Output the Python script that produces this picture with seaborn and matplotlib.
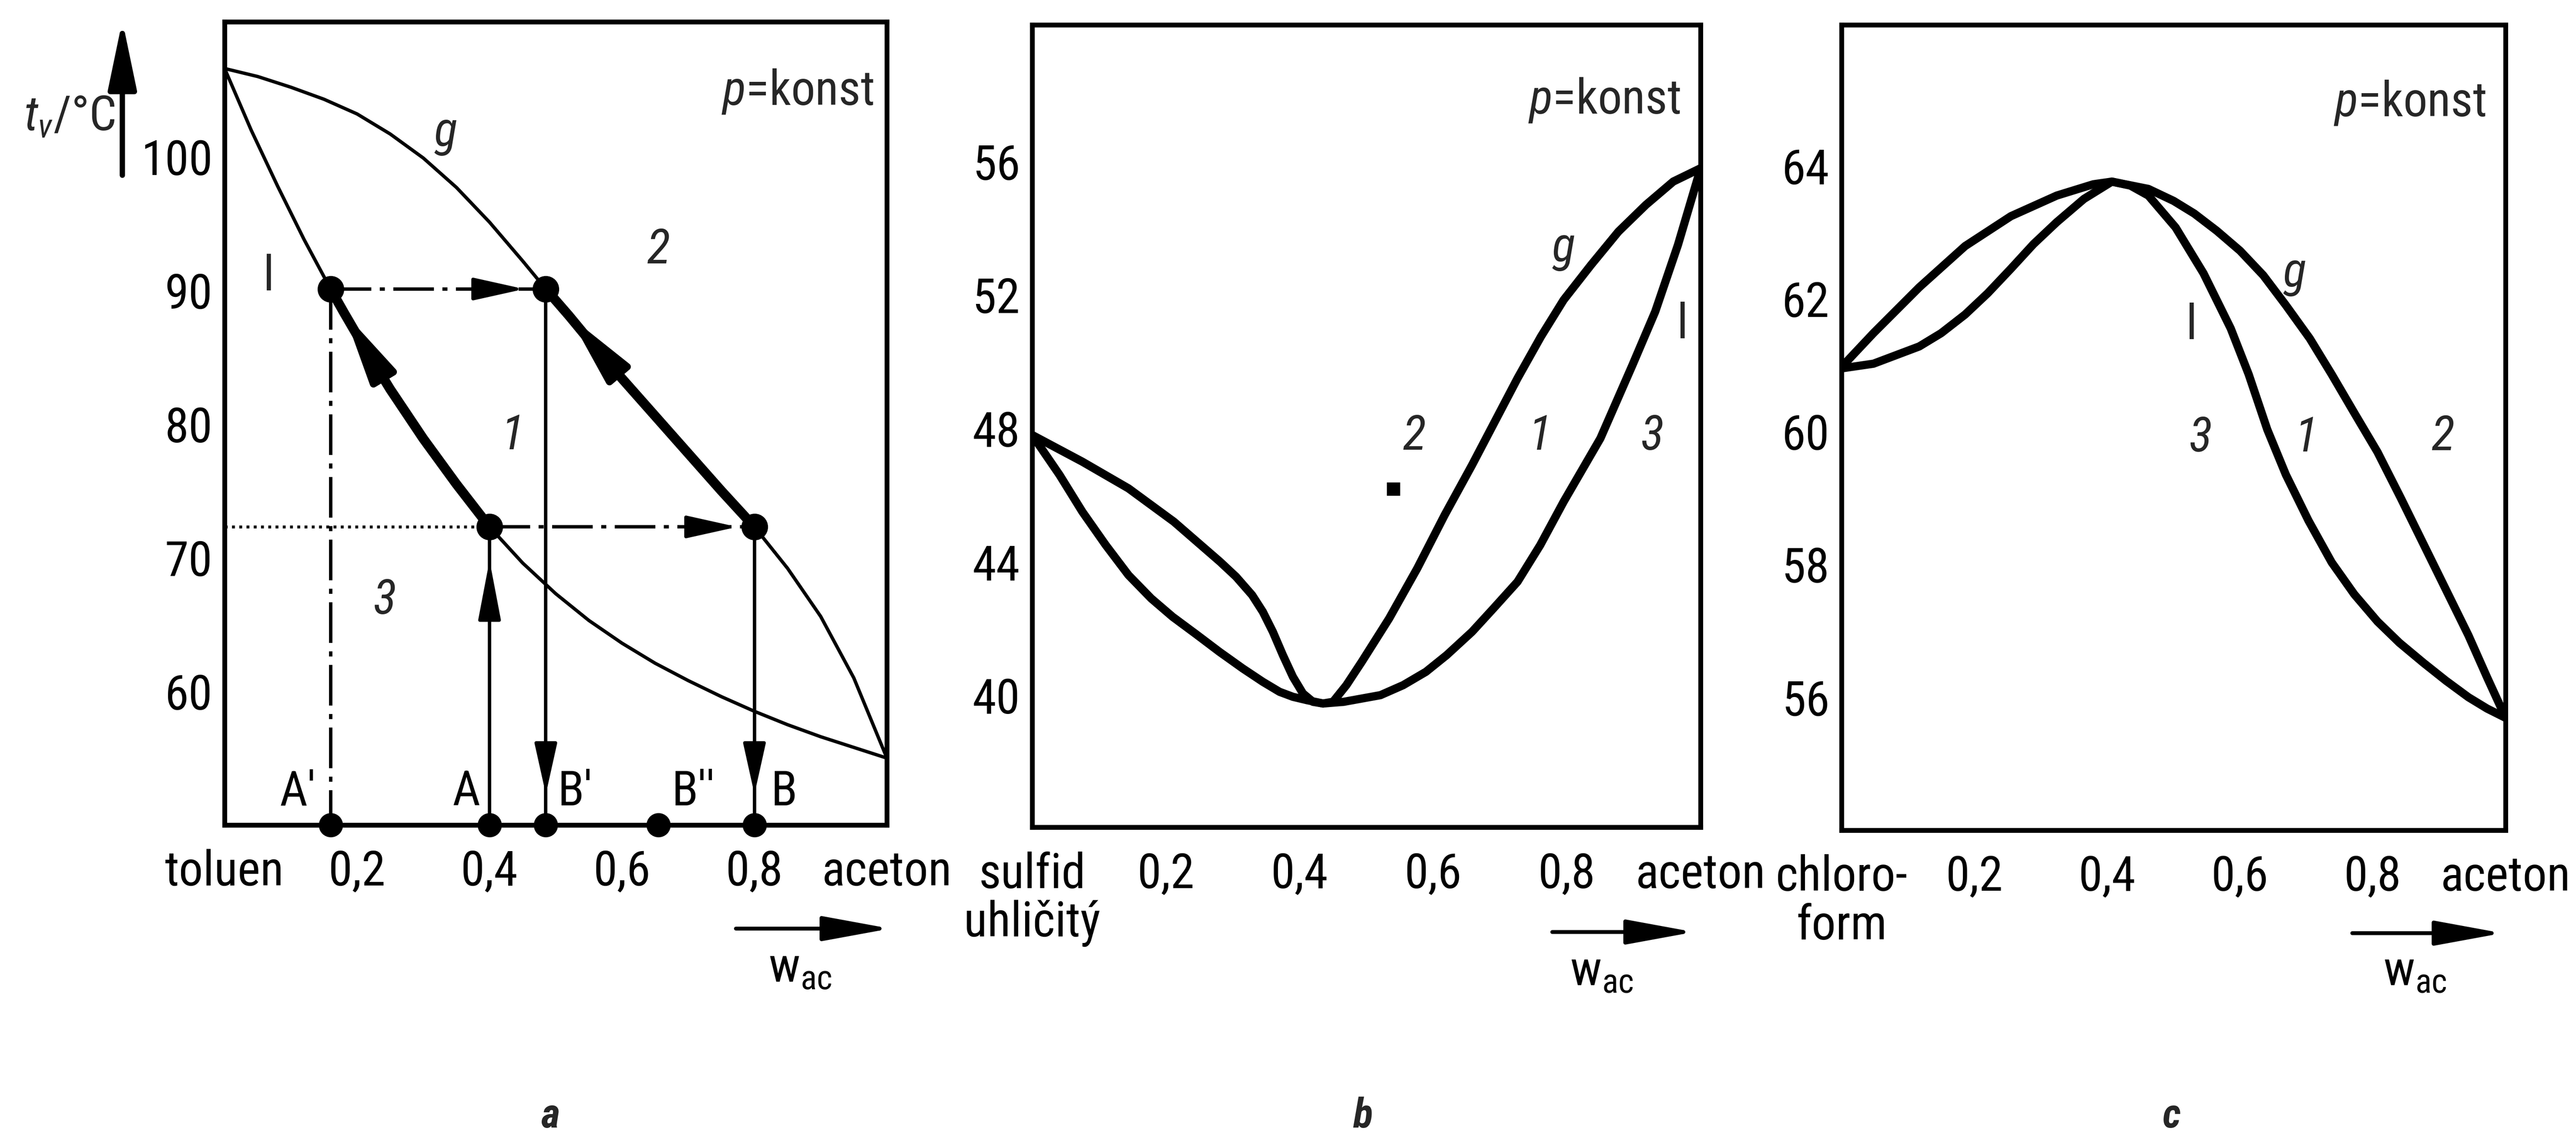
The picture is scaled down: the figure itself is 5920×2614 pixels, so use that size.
import matplotlib
matplotlib.use("Agg")
import matplotlib.pyplot as plt
from matplotlib import font_manager as fm
import seaborn as sns
import pandas as pd

# ---------------- data ----------------
# (a) toluen - aceton  (liquid l, vapour g)
a_liq_x = [0.00, 0.04, 0.08, 0.12, 0.16, 0.18, 0.20, 0.25, 0.30, 0.35, 0.40, 0.45,
           0.50, 0.55, 0.60, 0.65, 0.70, 0.75, 0.80, 0.85, 0.90, 0.95, 1.00]
a_liq_t = [106.6, 102.0, 97.8, 93.8, 90.1, 88.35, 86.65, 82.6, 78.9, 75.5, 72.3, 69.6,
           67.3, 65.3, 63.6, 62.1, 60.8, 59.6, 58.5, 57.5, 56.6, 55.8, 55.0]
a_vap_x = [0.00, 0.05, 0.10, 0.15, 0.20, 0.25, 0.30, 0.35, 0.40, 0.45, 0.485, 0.52,
           0.55, 0.60, 0.65, 0.70, 0.75, 0.80, 0.85, 0.90, 0.95, 1.00]
a_vap_t = [106.6, 106.0, 105.2, 104.3, 103.2, 101.7, 99.9, 97.7, 95.1, 92.2, 90.1, 88.1,
           86.3, 83.4, 80.6, 77.8, 75.0, 72.3, 69.2, 65.6, 61.0, 55.0]
a_comp_x = [0.16, 0.40, 0.485, 0.655, 0.80]          # A', A, B', B'', B
a_comp_lab = ["A'", "A", "B'", "B''", "B"]
a_t_upper = 90.1
a_t_lower = 72.3

# (b) sulfid uhlicity - aceton
b_vap_x = [0.00, 0.075, 0.144, 0.212, 0.281, 0.305, 0.329, 0.345, 0.360, 0.375, 0.390,
           0.405, 0.420, 0.435, 0.450, 0.470, 0.493, 0.534, 0.576, 0.617, 0.658, 0.692,
           0.726, 0.761, 0.795, 0.836, 0.877, 0.918, 0.959, 1.00]
b_vap_t = [47.8, 47.0, 46.2, 45.2, 44.0, 43.55, 43.0, 42.5, 41.9, 41.2, 40.55,
           40.05, 39.8, 39.75, 39.8, 40.3, 41.0, 42.3, 43.8, 45.4, 46.9, 48.2,
           49.5, 50.75, 51.85, 52.9, 53.9, 54.7, 55.4, 55.8]
b_liq_x = [0.00, 0.041, 0.075, 0.110, 0.144, 0.178, 0.210, 0.247, 0.280, 0.315, 0.345,
           0.370, 0.390, 0.411, 0.435, 0.466, 0.521, 0.555, 0.589, 0.620, 0.658, 0.690,
           0.726, 0.760, 0.795, 0.850, 0.898, 0.932, 0.966, 1.00]
b_liq_t = [47.8, 46.6, 45.5, 44.5, 43.6, 42.9, 42.35, 41.8, 41.3, 40.8, 40.4,
           40.1, 39.95, 39.85, 39.75, 39.8, 40.0, 40.3, 40.7, 41.2, 41.9, 42.6,
           43.4, 44.5, 45.8, 47.7, 49.9, 51.5, 53.5, 55.8]

# (c) chloroform - aceton
c_vap_x = [0.00, 0.048, 0.117, 0.186, 0.255, 0.324, 0.379, 0.407, 0.462, 0.500, 0.531,
           0.565, 0.600, 0.635, 0.669, 0.705, 0.738, 0.772, 0.807, 0.842, 0.876, 0.910,
           0.944, 0.972, 1.00]
c_vap_t = [60.97, 61.48, 62.17, 62.79, 63.24, 63.55, 63.72, 63.76, 63.65, 63.47, 63.28,
           63.02, 62.72, 62.35, 61.90, 61.40, 60.86, 60.28, 59.69, 59.00, 58.31, 57.62,
           56.93, 56.30, 55.69]
c_liq_x = [0.00, 0.048, 0.117, 0.150, 0.186, 0.220, 0.255, 0.289, 0.324, 0.365, 0.407,
           0.435, 0.462, 0.503, 0.545, 0.586, 0.613, 0.641, 0.669, 0.703, 0.738, 0.772,
           0.807, 0.840, 0.876, 0.910, 0.944, 0.972, 1.00]
c_liq_t = [60.95, 61.02, 61.28, 61.48, 61.76, 62.08, 62.45, 62.82, 63.15, 63.50, 63.76,
           63.70, 63.55, 63.07, 62.38, 61.55, 60.86, 60.03, 59.35, 58.66, 58.03, 57.55,
           57.14, 56.82, 56.52, 56.25, 56.00, 55.83, 55.69]

x_ticks = [0.0, 0.2, 0.4, 0.6, 0.8, 1.0]
a_xlabels = ["toluen", "0,2", "0,4", "0,6", "0,8", "aceton"]
b_xlabels = ["sulfid\nuhličitý", "0,2", "0,4", "0,6", "0,8", "aceton"]
c_xlabels = ["chloro-\nform", "0,2", "0,4", "0,6", "0,8", "aceton"]
a_yticks = [60, 70, 80, 90, 100]
b_yticks = [40, 44, 48, 52, 56]
c_yticks = [56, 58, 60, 62, 64]
a_ylim = (50.0, 110.1)
b_ylim = (36.04, 60.1)
c_ylim = (54.0, 66.12)

# ---------------- style ----------------
sns.set_theme(style="white")
ttf = fm.fontManager.ttflist
names = {f.name for f in ttf}
STRETCH = "normal"
FONT, FS = "Liberation Sans", 17.5
for cand in ["Liberation Sans Narrow", "Arial Narrow", "Nimbus Sans Narrow",
             "Roboto Condensed", "Open Sans Condensed"]:
    if cand in names:
        FONT, FS = cand, 20
        break
else:
    if any(f.name == "DejaVu Sans" and f.stretch in ("condensed", "semi-condensed")
           for f in ttf):
        FONT, FS, STRETCH = "DejaVu Sans", 17, "condensed"
plt.rcParams["font.family"] = [FONT, "DejaVu Sans"]
plt.rcParams["font.stretch"] = STRETCH
plt.rcParams["mathtext.fontset"] = "custom"
plt.rcParams["mathtext.rm"] = FONT
plt.rcParams["mathtext.it"] = FONT + ":italic"
plt.rcParams["axes.linewidth"] = 2.0

fig = plt.figure(figsize=(14.8, 6.535), dpi=400)
fig.patch.set_facecolor("white")
axA = fig.add_axes([0.0872, 0.2751, 0.2571, 0.7058])
axB = fig.add_axes([0.4007, 0.2731, 0.2595, 0.7051])
axC = fig.add_axes([0.7149, 0.2705, 0.2578, 0.7077])

K = "black"
DASHDOT = (0, (12, 2.5, 1.5, 2.5))


def style_axes(ax, ylim, yticks, xlabels):
    ax.set_xlim(0, 1)
    ax.set_ylim(*ylim)
    ax.set_facecolor("white")
    for s in ax.spines.values():
        s.set_visible(True)
        s.set_color(K)
        s.set_linewidth(2.0)
    ax.set_yticks(yticks)
    ax.set_yticklabels([str(v) for v in yticks])
    ax.set_xticks(x_ticks)
    ax.set_xticklabels(xlabels, linespacing=1.05)
    ax.tick_params(axis="both", direction="in", length=7, width=2, colors=K,
                   labelsize=FS, labelcolor=K)
    ax.tick_params(axis="y", pad=5)
    ax.tick_params(axis="x", pad=10)
    ax.set_xlabel("")
    ax.set_ylabel("")
    ax.grid(False)


def curve(ax, xs, ts, lw):
    sns.lineplot(x=xs, y=ts, ax=ax, color=K, linewidth=lw, sort=False,
                 estimator=None, solid_joinstyle="round", solid_capstyle="round")


def head(ax, tip, tail, L=0.9, W=0.2, ms=20, lw=1.4):
    ax.annotate("", xy=tip, xytext=tail,
                arrowprops=dict(arrowstyle=f"-|>,head_length={L},head_width={W}",
                                mutation_scale=ms, color=K, lw=lw,
                                shrinkA=0, shrinkB=0))


def wac_arrow(ax, x0, x1, y_arrow, x_text, y_text):
    ax.annotate("", xy=(x1, y_arrow), xytext=(x0, y_arrow),
                xycoords=("axes fraction", "figure fraction"),
                textcoords=("axes fraction", "figure fraction"),
                arrowprops=dict(arrowstyle="-|>,head_length=1.2,head_width=0.22",
                                mutation_scale=20, color=K, lw=1.6,
                                shrinkA=0, shrinkB=0),
                annotation_clip=False)
    ax.annotate(r"w$_{\mathrm{ac}}$", xy=(x_text, y_text),
                xycoords=("axes fraction", "figure fraction"),
                ha="center", va="center", fontsize=FS, color=K,
                annotation_clip=False)


# ---------------- panel a ----------------
ax = axA
style_axes(ax, a_ylim, a_yticks, a_xlabels)
y0 = a_ylim[0]
xA1, xA, xB1, xB2, xB = a_comp_x
tU, tL = a_t_upper, a_t_lower

curve(ax, a_liq_x, a_liq_t, 1.4)
curve(ax, a_vap_x, a_vap_t, 1.4)
liq = pd.DataFrame({"x": a_liq_x, "t": a_liq_t})
vap = pd.DataFrame({"x": a_vap_x, "t": a_vap_t})
seg_l = liq[(liq.x >= xA1) & (liq.x <= xA)]
seg_v = vap[(vap.x >= xB1) & (vap.x <= xB)]
curve(ax, list(seg_l.x), list(seg_l.t), 4.0)
curve(ax, list(seg_v.x), list(seg_v.t), 4.0)

# construction lines
ax.plot([xA1, xB1], [tU, tU], color=K, lw=1.4, ls=DASHDOT)
ax.plot([xA1, xA1], [tU, y0], color=K, lw=1.4, ls=DASHDOT)
ax.plot([xB1, xB1], [tU, y0], color=K, lw=1.4)
ax.plot([0, xA], [tL, tL], color=K, lw=1.2, ls=(0, (1, 1.5)))
ax.plot([xA, xB], [tL, tL], color=K, lw=1.4, ls=DASHDOT)
ax.plot([xA, xA], [y0, tL], color=K, lw=1.4)
ax.plot([xB, xB], [tL, y0], color=K, lw=1.4)

# arrow heads
tipx = xA1 + 0.9 * (xB1 - xA1)
head(ax, (tipx, tU), (tipx - 0.07, tU))
tipx = xA + 0.935 * (xB - xA)
head(ax, (tipx, tL), (tipx - 0.07, tL))
head(ax, (xB1, y0 + 2.3), (xB1, y0 + 5.8))
head(ax, (xB, y0 + 2.3), (xB, y0 + 5.8))
head(ax, (xA, y0 + 19.8), (xA, y0 + 15.6), L=1.05)
head(ax, (a_liq_x[5], a_liq_t[5]), (a_liq_x[7], a_liq_t[7]), L=1.2, W=0.24, lw=3)
head(ax, (a_vap_x[11], a_vap_t[11]), (a_vap_x[13], a_vap_t[13]), L=1.2, W=0.24, lw=3)

# points
ax.plot([xA1, xB1, xA, xB], [tU, tU, tL, tL], "o", color=K, ms=10, zorder=5)
ax.plot(a_comp_x, [y0] * len(a_comp_x), "o", color=K, ms=9, clip_on=False, zorder=6)
offs = [(-0.022, "right"), (-0.014, "right"), (0.018, "left"), (0.02, "left"), (0.025, "left")]
for xv, lab, (dx, ha) in zip(a_comp_x, a_comp_lab, offs):
    ax.text(xv + dx, y0 + 0.7, lab, ha=ha, va="bottom", fontsize=FS, color=K)

ax.text(0.334, 101.8, "g", fontsize=FS, style="italic", ha="center", va="center")
ax.text(0.067, 91.0, "l", fontsize=FS, ha="center", va="center")
ax.text(0.655, 93.0, "2", fontsize=FS, style="italic", ha="center", va="center")
ax.text(0.435, 79.1, "1", fontsize=FS, style="italic", ha="center", va="center")
ax.text(0.242, 66.8, "3", fontsize=FS, style="italic", ha="center", va="center")
ax.text(0.98, 0.913, r"$p$=konst", transform=ax.transAxes, fontsize=FS,
        ha="right", va="center")
wac_arrow(ax, 0.772, 1.005, 0.184, 0.869, 0.149)

# y axis label with arrow
fig.text(0.027, 0.897, r"$t_v$/°C", fontsize=FS, ha="center", va="center")
ax.annotate("", xy=(0.0475, 0.982), xytext=(0.0475, 0.846),
            xycoords="figure fraction", textcoords="figure fraction",
            arrowprops=dict(arrowstyle="-|>,head_length=1.2,head_width=0.25",
                            mutation_scale=20, color=K, lw=2.2, shrinkA=0, shrinkB=0),
            annotation_clip=False)

# ---------------- panel b ----------------
ax = axB
style_axes(ax, b_ylim, b_yticks, b_xlabels)
curve(ax, b_vap_x, b_vap_t, 3.4)
curve(ax, b_liq_x, b_liq_t, 3.4)
ax.text(0.795, 53.4, "g", fontsize=FS, style="italic", ha="center", va="center")
ax.text(0.973, 51.1, "l", fontsize=FS, ha="center", va="center")
ax.text(0.572, 47.76, "2", fontsize=FS, style="italic", ha="center", va="center")
ax.text(0.760, 47.76, "1", fontsize=FS, style="italic", ha="center", va="center")
ax.text(0.928, 47.76, "3", fontsize=FS, style="italic", ha="center", va="center")
ax.plot([0.54], [46.18], marker="s", color=K, ms=4.5, ls="none")
ax.text(0.97, 0.906, r"$p$=konst", transform=ax.transAxes, fontsize=FS,
        ha="right", va="center")
wac_arrow(ax, 0.778, 0.99, 0.181, 0.852, 0.146)

# ---------------- panel c ----------------
ax = axC
style_axes(ax, c_ylim, c_yticks, c_xlabels)
curve(ax, c_vap_x, c_vap_t, 3.4)
curve(ax, c_liq_x, c_liq_t, 3.4)
ax.text(0.682, 62.38, "g", fontsize=FS, style="italic", ha="center", va="center")
ax.text(0.527, 61.59, "l", fontsize=FS, ha="center", va="center")
ax.text(0.541, 59.9, "3", fontsize=FS, style="italic", ha="center", va="center")
ax.text(0.700, 59.9, "1", fontsize=FS, style="italic", ha="center", va="center")
ax.text(0.906, 59.92, "2", fontsize=FS, style="italic", ha="center", va="center")
ax.text(0.97, 0.903, r"$p$=konst", transform=ax.transAxes, fontsize=FS,
        ha="right", va="center")
wac_arrow(ax, 0.769, 0.995, 0.180, 0.863, 0.146)

# panel letters
for xf, lab in zip([0.2137, 0.529, 0.843], ["a", "b", "c"]):
    fig.text(xf, 0.019, lab, fontsize=FS * 0.85, style="italic", weight="bold",
             ha="center", va="center")

fig.savefig("out.png", dpi=400, facecolor="white")
